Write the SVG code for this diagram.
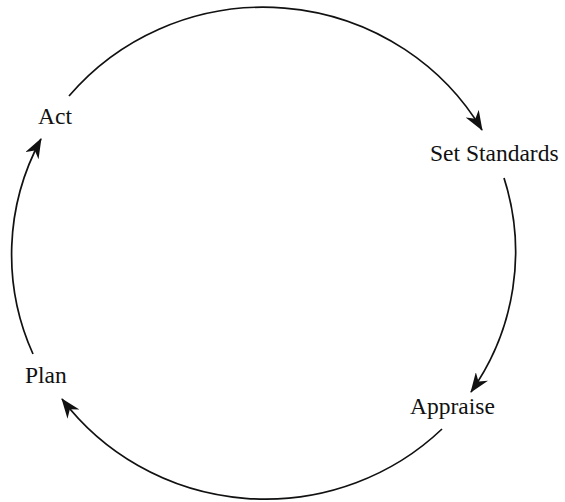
<svg xmlns="http://www.w3.org/2000/svg" width="565" height="502" viewBox="0 0 565 502">
<style>
.lbl{font-family:"Liberation Serif","Times New Roman",serif;font-size:23.5px;fill:#111}
.arc{fill:none;stroke:#111;stroke-width:1.7;marker-end:url(#ah)}
</style>
<defs>
<marker id="ah" viewBox="0 0 20 15" refX="19" refY="7.5" markerWidth="20" markerHeight="15" markerUnits="userSpaceOnUse" orient="auto">
<path d="M0,0 L20,7.5 L0,15 L6,7.5 Z" fill="#111"/>
</marker>
</defs>
<rect width="565" height="502" fill="#fff"/>
<g id="connectors">
<path class="arc" d="M69,96 A253,247 0 0 1 482,130"/>
<path class="arc" d="M504,178 A253,247 0 0 1 471,392"/>
<path class="arc" d="M442,429 A253,247 0 0 1 62,399"/>
<path class="arc" d="M33,354 A253,247 0 0 1 41,139"/>
</g>
<g id="act"><text class="lbl" x="38" y="124">Act</text></g>
<g id="set-standards"><text class="lbl" x="430" y="161">Set Standards</text></g>
<g id="appraise"><text class="lbl" x="410" y="414">Appraise</text></g>
<g id="plan"><text class="lbl" x="25" y="383">Plan</text></g>
</svg>
